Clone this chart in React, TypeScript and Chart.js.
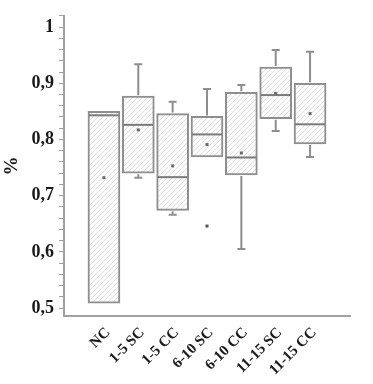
import React, { useEffect, useRef } from 'react';
import { Chart, registerables } from 'chart.js';

Chart.register(...registerables);

const categories = ['NC', '1-5 SC', '1-5 CC', '6-10 SC', '6-10 CC', '11-15 SC', '11-15 CC'];
const whiskerLow = [0.509, 0.732, 0.666, 0.769, 0.605, 0.815, 0.769];
const q1 = [0.509, 0.740, 0.674, 0.769, 0.737, 0.837, 0.792];
const medians = [0.843, 0.826, 0.733, 0.809, 0.768, 0.879, 0.827];
const q3 = [0.850, 0.877, 0.846, 0.841, 0.884, 0.929, 0.900];
const whiskerHigh = [0.850, 0.934, 0.867, 0.890, 0.897, 0.959, 0.956];
const means = [0.732, 0.817, 0.753, 0.791, 0.776, 0.882, 0.846];
const outlierCategory = [3];
const outlierValue = [0.646];

const yMajorTicks = [0.5, 0.6, 0.7, 0.8, 0.9, 1];
const yMajorLabels = ['0,5', '0,6', '0,7', '0,8', '0,9', '1'];
const yMinorTicks = [
  0.52, 0.54, 0.56, 0.58, 0.62, 0.64, 0.66, 0.68, 0.72, 0.74, 0.76, 0.78,
  0.82, 0.84, 0.86, 0.88, 0.92, 0.94, 0.96, 0.98, 1.02,
];

function makeHatch(): CanvasPattern | string {
  const c = document.createElement('canvas');
  c.width = 5;
  c.height = 5;
  const ctx = c.getContext('2d');
  if (!ctx) return '#f4f4f4';
  ctx.fillStyle = '#fcfcfc';
  ctx.fillRect(0, 0, 5, 5);
  ctx.strokeStyle = '#dedede';
  ctx.lineWidth = 0.9;
  ctx.beginPath();
  ctx.moveTo(0, 5);
  ctx.lineTo(5, 0);
  ctx.moveTo(-1, 1);
  ctx.lineTo(1, -1);
  ctx.moveTo(4, 6);
  ctx.lineTo(6, 4);
  ctx.stroke();
  const p = ctx.createPattern(c, 'repeat');
  return p || '#f4f4f4';
}

const boxPlugin = {
  id: 'boxExtras',
  afterDatasetsDraw(chart: any) {
    const { ctx, scales } = chart;
    const xs = scales.x;
    const ys = scales.y;
    const meta = chart.getDatasetMeta(0);
    ctx.save();
    categories.forEach((_, i) => {
      const bar = meta.data[i];
      const cx = xs.getPixelForValue(i);
      const half = bar ? bar.width / 2 : 16;
      const yq1 = ys.getPixelForValue(q1[i]);
      const yq3 = ys.getPixelForValue(q3[i]);
      const ylo = ys.getPixelForValue(whiskerLow[i]);
      const yhi = ys.getPixelForValue(whiskerHigh[i]);
      const capHalf = 4;
      ctx.strokeStyle = '#8e8e8e';
      ctx.lineWidth = 2;
      ctx.beginPath();
      if (Math.abs(yhi - yq3) > 1.5) {
        ctx.moveTo(cx, yq3 - 1);
        ctx.lineTo(cx, yhi);
        ctx.moveTo(cx - capHalf, yhi);
        ctx.lineTo(cx + capHalf, yhi);
      }
      if (Math.abs(ylo - yq1) > 1.5) {
        ctx.moveTo(cx, yq1 + 1);
        ctx.lineTo(cx, ylo);
        ctx.moveTo(cx - capHalf, ylo);
        ctx.lineTo(cx + capHalf, ylo);
      }
      ctx.stroke();
      const ym = ys.getPixelForValue(medians[i]);
      ctx.strokeStyle = '#7a7a7a';
      ctx.lineWidth = 2;
      ctx.beginPath();
      ctx.moveTo(cx - half + 1, ym);
      ctx.lineTo(cx + half - 1, ym);
      ctx.stroke();
      const ymean = ys.getPixelForValue(means[i]);
      ctx.fillStyle = '#6a6a6a';
      ctx.fillRect(cx - 1.5, ymean - 1.5, 3, 3);
    });
    outlierCategory.forEach((c, k) => {
      const ox = xs.getPixelForValue(c);
      const oy = ys.getPixelForValue(outlierValue[k]);
      ctx.fillStyle = '#555555';
      ctx.fillRect(ox - 1.5, oy - 1.5, 3, 3);
    });
    ctx.restore();
  },
};

export default function App() {
  const ref = useRef<HTMLCanvasElement | null>(null);
  useEffect(() => {
    if (!ref.current) return;
    const hatch = makeHatch();
    const chart = new Chart(ref.current, {
      type: 'bar',
      data: {
        datasets: [
          {
            data: categories.map((_, i) => ({ x: i, y: [q1[i], q3[i]] })) as any,
            backgroundColor: hatch as any,
            borderColor: '#8e8e8e',
            borderWidth: 2,
            borderSkipped: false,
            barThickness: 32,
          },
        ],
      },
      options: {
        animation: false,
        responsive: false,
        layout: { padding: { left: 0, top: 15, right: 23, bottom: 0 } },
        plugins: { legend: { display: false }, tooltip: { enabled: false } },
        scales: {
          x: {
            type: 'linear',
            min: -0.7,
            max: 6.7,
            grid: { display: false },
            border: { display: true, color: '#a0a0a0', width: 2 },
            ticks: {
              stepSize: 1,
              autoSkip: false,
              maxRotation: 45,
              minRotation: 45,
              padding: 0,
              labelOffset: 4,
              color: '#1a1a1a',
              font: { family: 'Liberation Serif', size: 15, weight: 'bold' },
              callback: (v: any) => {
                const n = Math.round(Number(v));
                return Math.abs(Number(v) - n) < 1e-6 && categories[n] ? categories[n] : '';
              },
            },
            afterFit: (s: any) => {
              s.height = 68;
            },
          },
          y: {
            min: 0.486,
            max: 1.02,
            grid: {
              display: true,
              drawOnChartArea: false,
              drawTicks: true,
              tickLength: 5,
              tickColor: '#a0a0a0',
              tickWidth: 1,
            },
            border: { display: true, color: '#a0a0a0', width: 2 },
            afterBuildTicks: (s: any) => {
              const vals = [...yMajorTicks, ...yMinorTicks].sort((a, b) => a - b);
              s.ticks = vals.map((v) => ({ value: v }));
            },
            ticks: {
              autoSkip: false,
              padding: 5,
              color: '#1a1a1a',
              font: { family: 'Liberation Serif', size: 18, weight: 'bold' },
              callback: (v: any) => {
                const k = yMajorTicks.findIndex((m) => Math.abs(m - Number(v)) < 1e-6);
                return k >= 0 ? yMajorLabels[k] : '';
              },
            },
            title: {
              display: true,
              text: '%',
              color: '#1a1a1a',
              padding: { top: 1, bottom: 0 },
              font: { family: 'Liberation Serif', size: 19, weight: 'bold' },
            },
            afterFit: (s: any) => {
              s.width = 64;
            },
          },
        },
      },
      plugins: [boxPlugin],
    });
    return () => chart.destroy();
  }, []);
  return (
    <div style={{ position: 'fixed', left: 0, top: 0, width: 373, height: 384, background: '#fff' }}>
      <canvas ref={ref} width={373} height={384} />
    </div>
  );
}
